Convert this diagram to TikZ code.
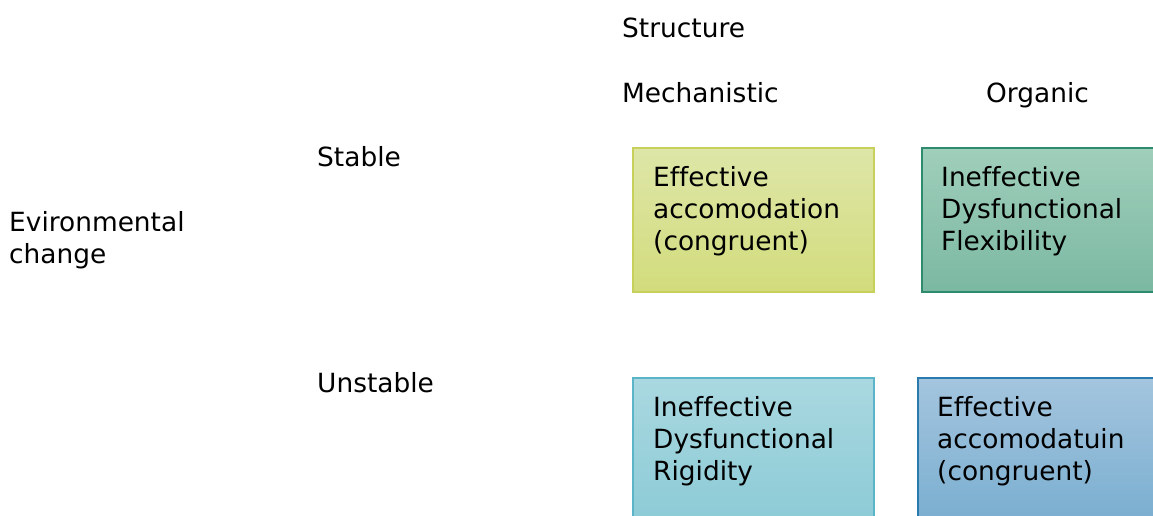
\documentclass[tikz,border=0pt]{standalone}
\usepackage{fontspec}
\setmainfont{DejaVu Sans}[Ligatures=NoCommon]
\definecolor{limeTop}{HTML}{DEE6A8}
\definecolor{limeBot}{HTML}{D2DC7C}
\definecolor{limeLine}{HTML}{C6D05A}
\definecolor{jadeTop}{HTML}{A0CFBB}
\definecolor{jadeBot}{HTML}{7BB8A2}
\definecolor{jadeLine}{HTML}{2E8B6E}
\definecolor{aquaTop}{HTML}{AAD8E0}
\definecolor{aquaBot}{HTML}{8CCBD6}
\definecolor{aquaLine}{HTML}{5CB4C8}
\definecolor{steelTop}{HTML}{A4C5DE}
\definecolor{steelBot}{HTML}{7AAED0}
\definecolor{steelLine}{HTML}{2A7AAE}
\tikzset{
	cell/.style n args={3}{top color=#1, bottom color=#2, draw=#3, line width=1.5pt,
		anchor=north west, minimum width=241pt, minimum height=144pt, inner sep=0pt},
	lbl/.style={anchor=base west, align=left, inner sep=0pt,
		font=\fontsize{26.4}{32}\selectfont}
}

\begin{document}
\begin{tikzpicture}[x=1pt, y=-1pt]
	% picture is 1153 x 515, cut at right and bottom
	\useasboundingbox (0,0) rectangle (1153,515);
	\clip (0,0) rectangle (1153,515);
	
	% headings (base of a wrapped label is its last line)
	\node[lbl] (structure) at (622,37) {Structure};
	\node[lbl] (mech) at (622,102) {Mechanistic};
	\node[lbl] (organic) at (986,102) {Organic};
	\node[lbl] (env) at (9,263) {Evironmental\\change};
	\node[lbl] (stable) at (317,166) {Stable};
	\node[lbl] (unstable) at (317,392) {Unstable};
	
	% cells
	\node[cell={limeTop}{limeBot}{limeLine}] (cellA) at (632,147) {};
	\node[cell={jadeTop}{jadeBot}{jadeLine}] (cellB) at (921,147) {};
	\node[cell={aquaTop}{aquaBot}{aquaLine}] (cellC) at (632,377) {};
	\node[cell={steelTop}{steelBot}{steelLine}] (cellD) at (917,377) {};
	
	% cell texts
	\node[lbl] (textA) at (653,250) {Effective\\accomodation\\(congruent)};
	\node[lbl] (textB) at (941,250) {Ineffective\\Dysfunctional\\Flexibility};
	\node[lbl] (textC) at (653,480) {Ineffective\\Dysfunctional\\Rigidity};
	\node[lbl] (textD) at (937,480) {Effective\\accomodatuin\\(congruent)};
\end{tikzpicture}
\end{document}
